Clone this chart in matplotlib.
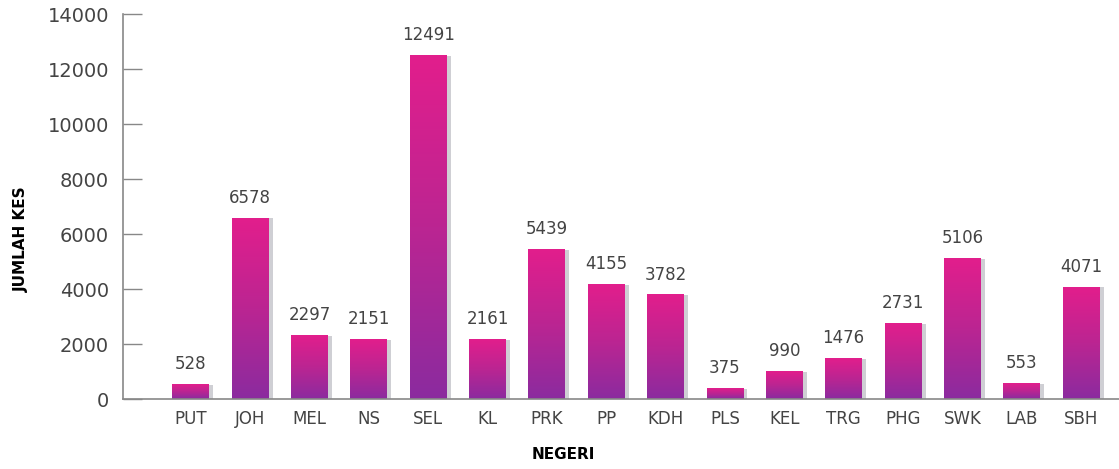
import numpy as np
import matplotlib.pyplot as plt
from matplotlib.colors import LinearSegmentedColormap
from matplotlib.patches import Rectangle

# data
negeri = ["PUT", "JOH", "MEL", "NS", "SEL", "KL", "PRK", "PP",
          "KDH", "PLS", "KEL", "TRG", "PHG", "SWK", "LAB", "SBH"]
kes = [528, 6578, 2297, 2151, 12491, 2161, 5439, 4155,
       3782, 375, 990, 1476, 2731, 5106, 553, 4071]
yticks = [0, 2000, 4000, 6000, 8000, 10000, 12000, 14000]

text_col = "#444444"
fig = plt.figure(figsize=(11.19, 4.69), dpi=100)
ax = fig.add_axes([0.110, 0.149, 0.890, 0.821])

cmap = LinearSegmentedColormap.from_list("pinkpurple", ["#8b2b9f", "#bb2592", "#e21e8c"])
grad = np.linspace(0, 1, 256).reshape(-1, 1)
w = 0.62
shift = 0.07

for i, v in enumerate(kes):
    # gray shadow behind the bar
    ax.add_patch(Rectangle((i - w / 2 + shift, 0), w, v, color="#cfcfd4", zorder=1, lw=0))
    ax.imshow(grad, cmap=cmap, origin="lower", aspect="auto",
              extent=(i - w / 2, i + w / 2, 0, v), zorder=2, interpolation="bilinear")
    ax.text(i, v + 420, str(v), ha="center", va="bottom", fontsize=12, color=text_col)

ax.set_xlim(-1.14, 15.64)
ax.set_ylim(0, 14000)
ax.set_xticks(range(len(negeri)))
ax.set_xticklabels(negeri, fontsize=12, color=text_col)
ax.set_yticks(yticks)
ax.set_yticklabels([str(t) for t in yticks], fontsize=14, color=text_col)
ax.tick_params(axis="x", length=0, pad=8)
ax.tick_params(axis="y", direction="in", length=14, width=1, color="#888888", pad=10)

for s in ["top", "right"]:
    ax.spines[s].set_visible(False)
for s in ["left", "bottom"]:
    ax.spines[s].set_color("#888888")
    ax.spines[s].set_linewidth(1.2)

fig.text(0.019, 0.49, "JUMLAH KES", rotation=90, ha="center", va="center",
         fontsize=11, fontweight="bold", color="black")
fig.text(0.503, 0.03, "NEGERI", ha="center", va="center",
         fontsize=11, fontweight="bold", color="black")

fig.savefig("out.png", dpi=100)
